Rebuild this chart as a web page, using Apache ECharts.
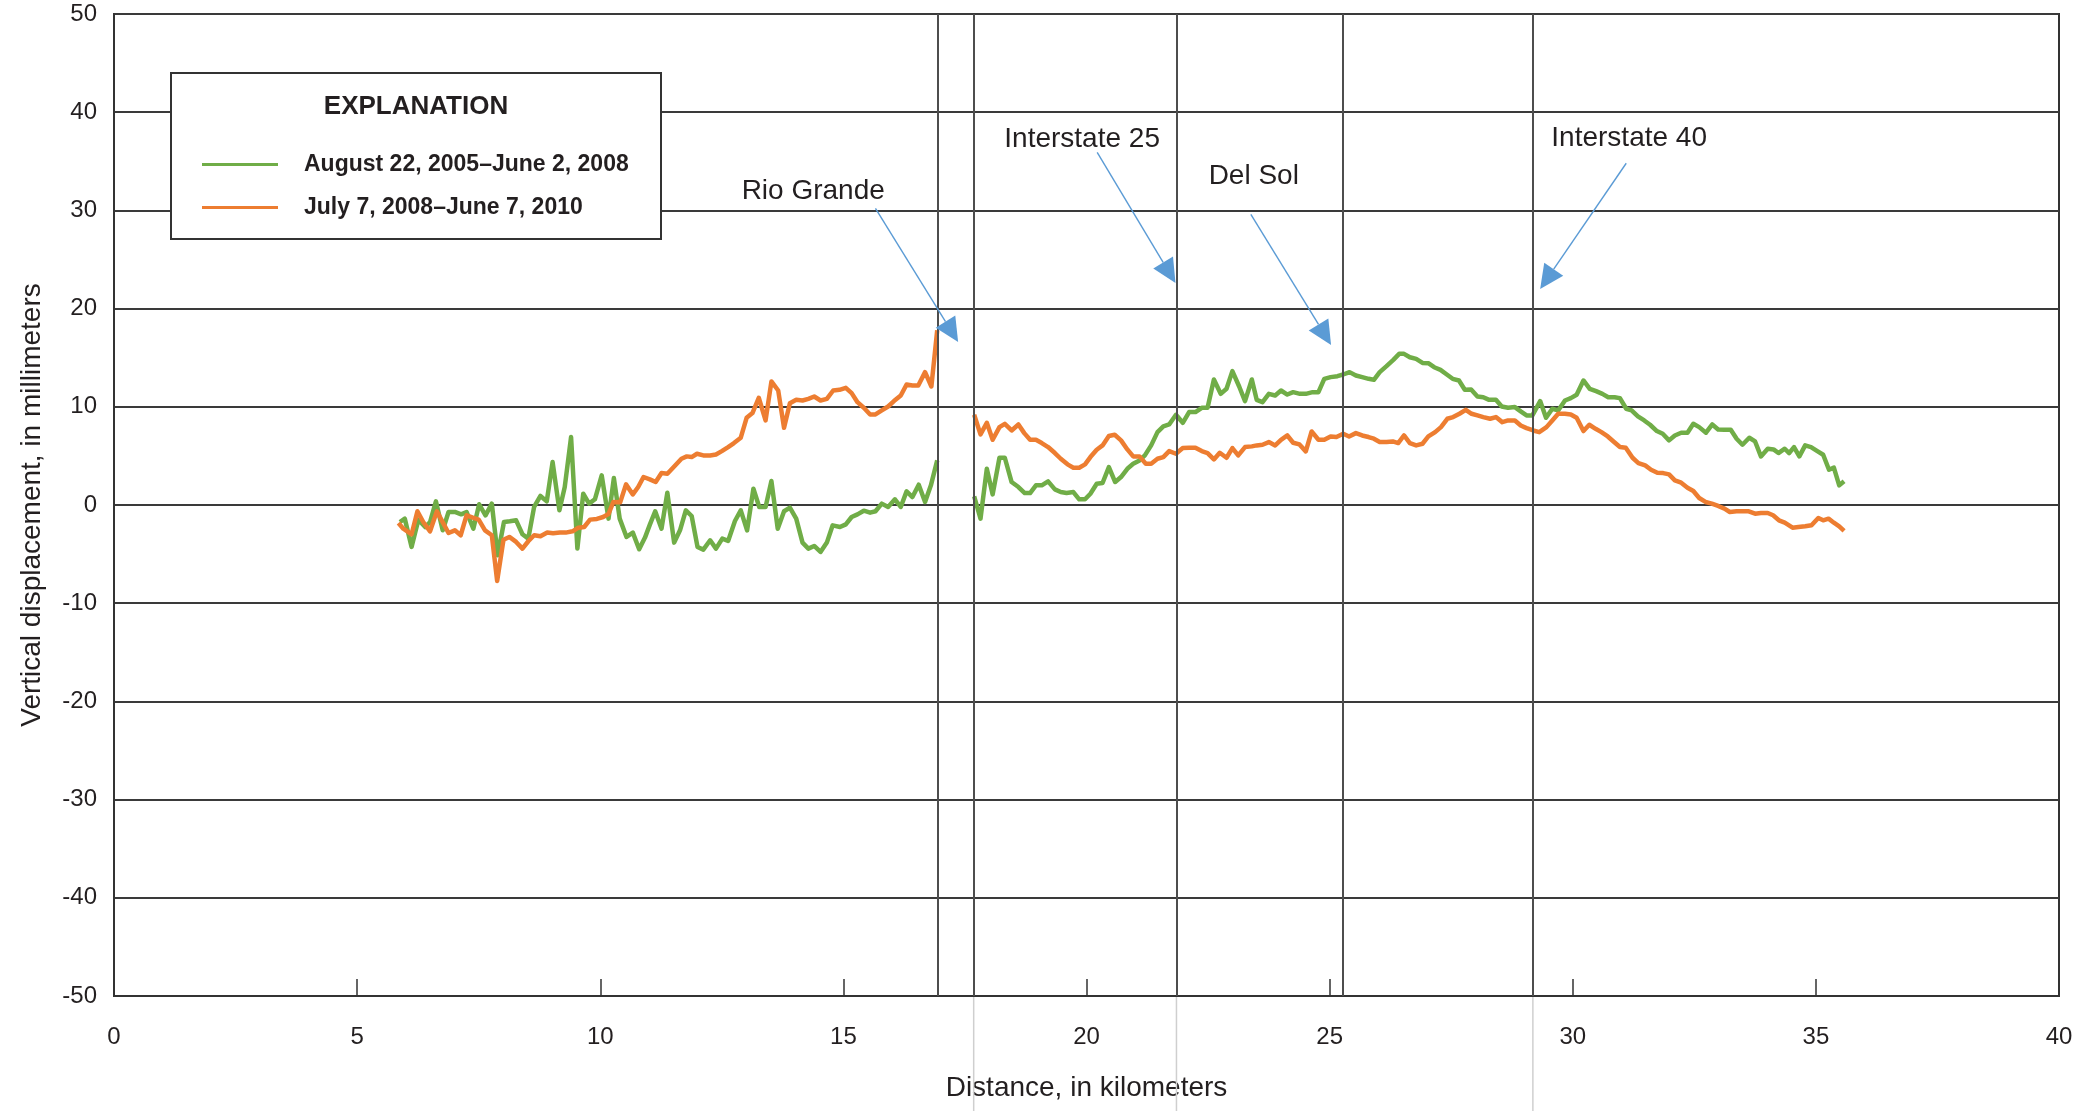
<!DOCTYPE html>
<html>
<head>
<meta charset="utf-8">
<script src="https://cdn.jsdelivr.net/npm/echarts@6/dist/echarts.min.js"></script>
<style>
  html, body { margin: 0; padding: 0; background: #fff; }
  #chart { width: 2080px; height: 1111px; }
</style>
</head>
<body>
<div id="chart"></div>
<script>
// ---------------- DATA ----------------
const seriesNames = ['August 22, 2005\u2013June 2, 2008', 'July 7, 2008\u2013June 7, 2010'];
const xTicks = [0, 5, 10, 15, 20, 25, 30, 35, 40];
const yTicks = [-50, -40, -30, -20, -10, 0, 10, 20, 30, 40, 50];
// feature locations (km) drawn as vertical lines
const featureKm = [16.94, 17.68, 21.85, 25.27, 29.18];
const extendedFeatureKm = [17.68, 21.85, 29.18];
const featureLabels = ['Rio Grande', 'Interstate 25', 'Del Sol', 'Interstate 40'];

// [distance km, vertical displacement mm]
const greenWest = [[5.88,-1.73],[5.98,-1.39],[6.12,-4.27],[6.26,-1.49],[6.40,-2.24],[6.50,-1.73],[6.62,0.37],[6.76,-2.58],[6.88,-0.71],[7.01,-0.71],[7.14,-0.95],[7.25,-0.71],[7.39,-2.41],[7.51,0.07],[7.64,-1.05],[7.77,0.14],[7.89,-5.12],[8.02,-1.73],[8.14,-1.66],[8.27,-1.56],[8.40,-2.98],[8.52,-3.42],[8.64,-0.20],[8.77,0.92],[8.90,0.37],[9.02,4.37],[9.16,-0.54],[9.27,1.83],[9.40,6.92],[9.53,-4.44],[9.65,1.15],[9.77,0.14],[9.89,0.58],[10.03,3.02],[10.17,-1.39],[10.28,2.75],[10.40,-1.39],[10.54,-3.25],[10.67,-2.81],[10.80,-4.51],[10.92,-3.32],[11.02,-2.0],[11.13,-0.64],[11.26,-2.41],[11.38,1.25],[11.52,-3.83],[11.64,-2.58],[11.76,-0.54],[11.88,-1.12],[12.00,-4.27],[12.12,-4.54],[12.26,-3.59],[12.38,-4.44],[12.51,-3.42],[12.63,-3.66],[12.77,-1.63],[12.89,-0.54],[13.02,-2.58],[13.15,1.66],[13.27,-0.20],[13.40,-0.20],[13.52,2.44],[13.65,-2.41],[13.78,-0.64],[13.90,-0.27],[14.03,-1.39],[14.16,-3.83],[14.28,-4.44],[14.40,-4.17],[14.53,-4.78],[14.66,-3.83],[14.78,-2.07],[14.93,-2.24],[15.05,-1.97],[15.17,-1.22],[15.29,-0.95],[15.42,-0.58],[15.55,-0.78],[15.66,-0.64],[15.79,0.14],[15.92,-0.20],[16.06,0.58],[16.18,-0.20],[16.30,1.39],[16.42,0.81],[16.55,2.07],[16.68,0.31],[16.80,2.00],[16.93,4.54]];

const greenEast = [[17.69,0.88],[17.82,-1.39],[17.95,3.69],[18.07,1.08],[18.21,4.81],[18.32,4.81],[18.46,2.34],[18.60,1.83],[18.73,1.22],[18.84,1.22],[18.96,2.00],[19.08,2.00],[19.21,2.41],[19.35,1.59],[19.47,1.32],[19.59,1.22],[19.73,1.32],[19.85,0.58],[19.97,0.58],[20.08,1.15],[20.21,2.17],[20.33,2.24],[20.46,3.86],[20.59,2.34],[20.71,2.85],[20.84,3.69],[20.96,4.20],[21.09,4.54],[21.20,5.05],[21.33,6.07],[21.46,7.42],[21.58,8.00],[21.70,8.20],[21.84,9.19],[21.98,8.37],[22.11,9.46],[22.24,9.46],[22.37,9.90],[22.49,9.90],[22.62,12.78],[22.76,11.32],[22.88,11.83],[23.00,13.63],[23.14,12.07],[23.26,10.58],[23.40,12.78],[23.50,10.71],[23.62,10.47],[23.75,11.32],[23.88,11.15],[24.00,11.66],[24.13,11.25],[24.25,11.49],[24.39,11.32],[24.51,11.32],[24.65,11.49],[24.77,11.49],[24.89,12.85],[25.02,13.02],[25.16,13.12],[25.28,13.29],[25.41,13.53],[25.54,13.19],[25.67,13.02],[25.80,12.85],[25.91,12.75],[26.03,13.53],[26.17,14.14],[26.31,14.78],[26.43,15.39],[26.53,15.39],[26.65,15.05],[26.78,14.88],[26.91,14.47],[27.03,14.44],[27.15,14.03],[27.28,13.76],[27.41,13.29],[27.53,12.85],[27.66,12.68],[27.78,11.73],[27.91,11.76],[28.04,11.05],[28.16,10.98],[28.28,10.71],[28.42,10.71],[28.54,10.03],[28.67,9.90],[28.81,9.97],[28.93,9.53],[29.05,9.12],[29.17,9.12],[29.33,10.58],[29.45,8.88],[29.58,9.80],[29.70,9.63],[29.84,10.64],[29.96,10.88],[30.08,11.22],[30.22,12.68],[30.35,11.83],[30.48,11.59],[30.61,11.32],[30.73,10.98],[30.86,10.98],[30.97,10.88],[31.10,9.80],[31.21,9.63],[31.34,9.02],[31.47,8.61],[31.59,8.17],[31.73,7.53],[31.85,7.25],[31.98,6.58],[32.10,7.08],[32.23,7.36],[32.36,7.36],[32.48,8.27],[32.60,7.93],[32.74,7.36],[32.87,8.20],[32.99,7.69],[33.12,7.66],[33.25,7.66],[33.37,6.75],[33.49,6.14],[33.63,6.85],[33.75,6.47],[33.87,4.95],[34.01,5.73],[34.13,5.66],[34.23,5.29],[34.36,5.73],[34.45,5.29],[34.55,5.90],[34.66,4.95],[34.78,6.07],[34.90,5.90],[35.03,5.49],[35.15,5.12],[35.27,3.59],[35.37,3.80],[35.48,2.00],[35.58,2.41]];

const orangeWest = [[5.85,-1.83],[5.95,-2.41],[6.12,-2.98],[6.24,-0.64],[6.36,-1.73],[6.50,-2.68],[6.64,-0.64],[6.74,-1.56],[6.88,-2.85],[7.01,-2.58],[7.13,-3.08],[7.25,-1.05],[7.38,-1.29],[7.50,-1.49],[7.63,-2.58],[7.77,-3.08],[7.88,-7.73],[8.01,-3.53],[8.13,-3.25],[8.27,-3.76],[8.40,-4.44],[8.52,-3.69],[8.64,-3.08],[8.77,-3.19],[8.91,-2.81],[9.03,-2.88],[9.17,-2.81],[9.29,-2.81],[9.43,-2.68],[9.55,-2.31],[9.67,-2.24],[9.79,-1.49],[9.93,-1.42],[10.06,-1.22],[10.17,-0.92],[10.27,0.31],[10.41,0.27],[10.53,2.10],[10.67,1.08],[10.78,1.83],[10.89,2.85],[11.02,2.61],[11.14,2.34],[11.26,3.25],[11.38,3.19],[11.54,4.03],[11.67,4.71],[11.78,4.95],[11.88,4.88],[11.99,5.22],[12.12,5.05],[12.26,5.05],[12.38,5.15],[12.50,5.49],[12.63,5.90],[12.75,6.31],[12.89,6.85],[13.01,8.88],[13.13,9.36],[13.26,10.92],[13.40,8.61],[13.52,12.58],[13.66,11.66],[13.78,7.86],[13.90,10.37],[14.03,10.71],[14.16,10.64],[14.28,10.81],[14.40,11.05],[14.53,10.64],[14.66,10.81],[14.79,11.66],[14.92,11.73],[15.05,11.93],[15.17,11.39],[15.29,10.47],[15.42,9.90],[15.55,9.22],[15.66,9.22],[15.79,9.63],[15.92,10.03],[16.04,10.58],[16.18,11.15],[16.30,12.27],[16.42,12.17],[16.54,12.17],[16.68,13.53],[16.81,12.07],[16.93,17.8]];

const orangeEast = [[17.69,9.19],[17.82,7.19],[17.95,8.37],[18.07,6.64],[18.21,7.93],[18.32,8.27],[18.46,7.59],[18.60,8.20],[18.72,7.32],[18.84,6.64],[18.96,6.64],[19.08,6.31],[19.21,5.90],[19.35,5.29],[19.47,4.71],[19.61,4.14],[19.73,3.80],[19.85,3.80],[19.97,4.14],[20.08,4.88],[20.21,5.63],[20.33,6.07],[20.46,7.02],[20.58,7.15],[20.71,6.58],[20.84,5.66],[20.96,4.95],[21.09,4.95],[21.22,4.20],[21.33,4.20],[21.46,4.71],[21.58,4.88],[21.70,5.49],[21.84,5.22],[21.98,5.80],[22.11,5.83],[22.24,5.83],[22.37,5.49],[22.49,5.29],[22.62,4.64],[22.74,5.32],[22.88,4.81],[23.00,5.80],[23.12,5.05],[23.26,5.90],[23.40,5.97],[23.50,6.07],[23.62,6.14],[23.75,6.41],[23.88,6.07],[24.00,6.64],[24.13,7.08],[24.25,6.34],[24.38,6.17],[24.51,5.46],[24.63,7.49],[24.77,6.64],[24.89,6.64],[25.02,6.98],[25.14,6.92],[25.28,7.25],[25.40,6.98],[25.54,7.32],[25.67,7.08],[25.80,6.92],[25.91,6.75],[26.03,6.41],[26.17,6.41],[26.30,6.47],[26.41,6.31],[26.53,7.08],[26.65,6.31],[26.78,6.07],[26.91,6.24],[27.03,6.98],[27.17,7.42],[27.29,7.93],[27.42,8.78],[27.54,8.95],[27.67,9.29],[27.80,9.69],[27.92,9.29],[28.04,9.12],[28.16,8.95],[28.30,8.78],[28.42,8.95],[28.55,8.44],[28.67,8.61],[28.81,8.61],[28.93,8.10],[29.05,7.83],[29.19,7.59],[29.31,7.42],[29.46,7.93],[29.58,8.61],[29.70,9.29],[29.84,9.29],[29.96,9.22],[30.08,8.88],[30.22,7.53],[30.34,8.17],[30.47,7.76],[30.59,7.42],[30.72,6.98],[30.85,6.41],[30.97,5.90],[31.09,5.83],[31.23,4.81],[31.35,4.27],[31.49,4.03],[31.61,3.59],[31.74,3.29],[31.86,3.25],[31.98,3.12],[32.10,2.51],[32.23,2.27],[32.36,1.76],[32.48,1.42],[32.60,0.71],[32.73,0.31],[32.86,0.14],[32.99,-0.10],[33.12,-0.37],[33.23,-0.71],[33.37,-0.64],[33.49,-0.64],[33.62,-0.64],[33.75,-0.88],[33.87,-0.81],[34.01,-0.81],[34.12,-1.05],[34.24,-1.56],[34.36,-1.80],[34.52,-2.31],[34.64,-2.24],[34.78,-2.17],[34.91,-2.07],[35.05,-1.32],[35.15,-1.56],[35.26,-1.39],[35.37,-1.80],[35.48,-2.17],[35.58,-2.64]];

// ---------------- LAYOUT / STYLE ----------------
const FONT = "'Liberation Sans', Arial, sans-serif";
const TXT = '#231f20';
const GREEN = '#70ad47';
const ORANGE = '#ed7d31';
const BLUE = '#5b9bd5';
// annotation layout in data units: text centre, arrow start, arrow tip
const annoLayout = [
  { text: [14.38, 31.9], from: [15.66, 30.2], to: [17.36, 16.6] },
  { text: [19.91, 37.2], from: [20.22, 35.9], to: [21.83, 22.6] },
  { text: [23.44, 33.5], from: [23.38, 29.6], to: [25.03, 16.3] },
  { text: [31.16, 37.3], from: [31.10, 34.8], to: [29.33, 22.0] }
];

const GAP = [17.3, '-'];
const greenData = greenWest.concat([GAP], greenEast);
const orangeData = orangeWest.concat([GAP], orangeEast);

const chart = echarts.init(document.getElementById('chart'), null, { renderer: 'canvas' });

const option = {
  animation: false,
  backgroundColor: '#fff',
  textStyle: { fontFamily: FONT },
  grid: { left: 114, right: 21, top: 14, bottom: 115, show: true, borderColor: '#333', borderWidth: 2, containLabel: false },
  xAxis: {
    type: 'value', min: xTicks[0], max: xTicks[xTicks.length - 1], interval: 5,
    name: 'Distance, in kilometers', nameLocation: 'middle', nameGap: 78,
    nameTextStyle: { fontFamily: FONT, fontSize: 28, color: TXT },
    axisLine: { show: true, onZero: false, lineStyle: { color: '#333', width: 2 } },
    axisTick: { show: true, inside: true, length: 17, lineStyle: { color: '#333', width: 1.5 } },
    axisLabel: { fontFamily: FONT, fontSize: 24, color: TXT, margin: 29 },
    splitLine: { show: false }
  },
  yAxis: {
    type: 'value', min: yTicks[0], max: yTicks[yTicks.length - 1], interval: 10,
    name: 'Vertical displacement, in millimeters', nameLocation: 'middle', nameGap: 68,
    nameTextStyle: { fontFamily: FONT, fontSize: 28, color: TXT },
    axisLine: { show: true, onZero: false, lineStyle: { color: '#333', width: 2 } },
    axisTick: { show: false },
    axisLabel: { fontFamily: FONT, fontSize: 24, color: TXT, margin: 17 },
    splitLine: { show: true, lineStyle: { color: '#3a3a3a', width: 2 } }
  },
  legend: {
    data: seriesNames.map((n, i) => ({
      name: n, icon: 'path://M0,0 L76,0 L76,3 L0,3 Z',
      itemStyle: { color: i === 0 ? GREEN : ORANGE }
    })),
    orient: 'vertical', left: 197, top: 145, itemGap: 14,
    itemWidth: 76, itemHeight: 3, z: 10,
    textStyle: { fontFamily: FONT, fontSize: 23, fontWeight: 'bold', color: TXT, lineHeight: 29, padding: [0, 0, 0, 21] },
    selectedMode: false
  },
  series: [
    {
      name: seriesNames[0], type: 'line', data: greenData, showSymbol: false, symbol: 'none',
      lineStyle: { color: GREEN, width: 4.5, join: 'round' }, itemStyle: { color: GREEN },
      connectNulls: false, z: 3
    },
    {
      name: seriesNames[1], type: 'line', data: orangeData, showSymbol: false, symbol: 'none',
      lineStyle: { color: ORANGE, width: 4.5, join: 'round' }, itemStyle: { color: ORANGE },
      connectNulls: false, z: 4,
      markLine: {
        silent: true, symbol: 'none', animation: false,
        label: { show: false },
        lineStyle: { color: '#4d4d4d', width: 2, type: 'solid' },
        data: featureKm.map(v => ({ xAxis: v }))
      }
    }
  ]
};
chart.setOption(option);

// ---------------- ANNOTATIONS (graphic, positioned through the scales) ----------------
function px(pt) { return chart.convertToPixel({ gridIndex: 0 }, pt); }
const graphics = [];

// legend box + title
graphics.push({
  type: 'rect', z: 5, silent: true,
  shape: { x: 171, y: 73, width: 490, height: 166 },
  style: { fill: '#fff', stroke: '#333', lineWidth: 2 }
});
graphics.push({
  type: 'text', z: 6, silent: true, x: 416, y: 107,
  style: { text: 'EXPLANATION', font: "bold 26px " + FONT, fill: TXT, align: 'center', verticalAlign: 'middle' }
});

// light extensions of feature lines below the plot
extendedFeatureKm.forEach(v => {
  const a = px([v, yTicks[0]]);
  graphics.push({
    type: 'line', z: 1, silent: true,
    shape: { x1: a[0], y1: a[1] + 1, x2: a[0], y2: 1111 },
    style: { stroke: '#cfcfcf', lineWidth: 1.5 }
  });
});

annoLayout.forEach((a, i) => {
  const t = px(a.text), s = px(a.from), e = px(a.to);
  graphics.push({
    type: 'text', z: 6, silent: true, x: t[0], y: t[1],
    style: { text: featureLabels[i], font: "28px " + FONT, fill: TXT, align: 'center', verticalAlign: 'middle' }
  });
  const dx = e[0] - s[0], dy = e[1] - s[1];
  const len = Math.sqrt(dx * dx + dy * dy);
  const ux = dx / len, uy = dy / len;
  const L = 24, W = 11.5;
  const bx = e[0] - ux * L, by = e[1] - uy * L;
  graphics.push({
    type: 'line', z: 6, silent: true,
    shape: { x1: s[0], y1: s[1], x2: bx, y2: by },
    style: { stroke: BLUE, lineWidth: 1.4 }
  });
  graphics.push({
    type: 'polygon', z: 6, silent: true,
    shape: { points: [[e[0], e[1]], [bx - uy * W, by + ux * W], [bx + uy * W, by - ux * W]] },
    style: { fill: BLUE }
  });
});

chart.setOption({ graphic: graphics });
</script>
</body>
</html>
